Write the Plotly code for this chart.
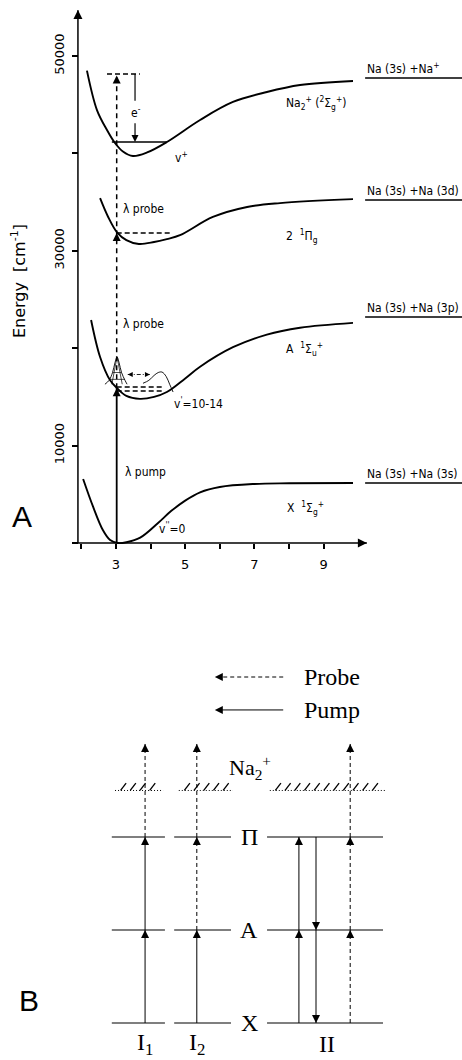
import numpy as np
import plotly.graph_objects as go

# ---------------- Panel A : potential curves (R in Å, energy in cm^-1) ----------------
x_state_R = [2.05, 2.34, 2.62, 2.83, 3.05, 3.3, 3.7, 4.2, 4.6, 5.0, 5.43, 6.0, 7.0, 8.0, 9.85]
x_state_E = [6570, 3700, 1330, 300, 0, 80, 550, 2000, 3300, 4350, 5200, 5750, 6060, 6130, 6160]

a_state_R = [2.28, 2.54, 2.83, 3.03, 3.3, 3.69, 4.1, 4.47, 5.0, 5.43, 6.38, 7.36, 8.32, 9.85]
a_state_E = [22900, 19100, 16700, 15900, 15100, 14800, 15000, 15500, 16900, 18100, 20100, 21400, 22100, 22600]

pi_state_R = [2.54, 2.77, 3.03, 3.3, 3.66, 4.1, 4.47, 4.85, 5.8, 6.79, 7.74, 9.85]
pi_state_E = [35400, 33500, 31900, 31100, 30700, 30900, 31200, 31600, 33470, 34500, 34900, 35300]

ion_state_R = [2.16, 2.45, 2.74, 2.97, 3.2, 3.49, 3.9, 4.47, 5.43, 6.38, 7.36, 8.32, 9.85]
ion_state_E = [48500, 44450, 42400, 41070, 40200, 39730, 40100, 41170, 43430, 45280, 46300, 47020, 47430]

# dissociation limits
asym_E = [47740, 35220, 23200, 6160]
asym_labels = ["Na (3s) +Na<sup>+</sup>", "Na (3s) +Na (3d)", "Na (3s) +Na (3p)", "Na (3s) +Na (3s)"]
asym_R = [10.2, 13.0]

# transitions
R_trans = 3.02
E_pump_top = 15900
E_A_levels = [16020, 15610]
R_A_levels = [3.02, 4.36]
E_pi_level = 31830
R_pi_level = [3.02, 4.56]
E_probe_top = 48000
E_ion_dash = 48150
R_ion_dash = [2.74, 3.69]
E_vplus = 41170
R_vplus = [2.88, 4.47]
R_e = 3.55

# wave packets in the A state
inner_wp_R = [2.68, 2.80, 2.90, 2.97, 3.03, 3.09, 3.16, 3.26, 3.32]
inner_wp_E = [16300, 16700, 17500, 18500, 19100, 18500, 17500, 16700, 16300]
outer_wp_R = [3.78, 3.95, 4.10, 4.22, 4.33, 4.45, 4.55, 4.65]
outer_wp_E = [16400, 16700, 17200, 17500, 17550, 17100, 16300, 15500]
wp_motion_R = [3.34, 3.98]
wp_motion_E = 17300

x_major_ticks = [3, 5, 7, 9]
x_minor_ticks = [2, 4, 6, 8]
y_major_ticks = [10000, 30000, 50000]
y_minor_ticks = [0, 20000, 40000]

# ---------------- Panel B : level scheme ----------------
lvl_X, lvl_A, lvl_Pi, lvl_ion, lvl_out = 0, 1, 2, 2.5, 3
col_spans = {"I1": (2.42, 3.57), "I2": (3.77, 5.0), "II": (5.78, 8.29)}
ion_spans = [(2.49, 3.53), (3.87, 5.04), (5.84, 8.33)]
b_arrows = [
    (3.14, 0, 1, "pump"), (3.14, 1, 2, "pump"), (3.14, 2, 3, "probe"),
    (4.26, 0, 1, "pump"), (4.26, 1, 2, "probe"), (4.26, 2, 3, "probe"),
    (6.47, 0, 1, "pump"), (6.47, 1, 2, "pump"),
    (6.84, 2, 1, "pump"), (6.84, 1, 0, "pump"),
    (7.58, 0, 1, "probe"), (7.58, 1, 2, "probe"), (7.58, 2, 3, "probe"),
]
col_labels = [("I<sub>1</sub>", 3.14), ("I<sub>2</sub>", 4.26), ("II", 7.08)]

# ---------------- figure ----------------
fig = go.Figure()
BLK = "black"
TF = "DejaVu Sans Condensed, Liberation Sans Narrow, sans-serif"
SERIF = "Liberation Serif, DejaVu Serif, serif"

def line(xs, ys, width=1.8, dash="solid", xa="x", ya="y", shape="linear"):
    fig.add_trace(go.Scatter(x=xs, y=ys, mode="lines", xaxis=xa, yaxis=ya,
                             line=dict(color=BLK, width=width, dash=dash, shape=shape, smoothing=1.0),
                             hoverinfo="skip", showlegend=False))

def heads(xs, ys, sym, size=9, xa="x", ya="y"):
    fig.add_trace(go.Scatter(x=xs, y=ys, mode="markers", xaxis=xa, yaxis=ya, cliponaxis=False,
                             marker=dict(symbol=sym, size=size, color=BLK, line=dict(width=0)),
                             hoverinfo="skip", showlegend=False))

# axes lines
line([1.85, 10.25], [0, 0], width=1.5)
line([1.90, 1.90], [0, 54700], width=1.5)
heads([10.25], [0], "arrow-right", 9)
heads([1.90], [54723], "arrow-up", 9)

# potential curves
for R, E in [(x_state_R, x_state_E), (a_state_R, a_state_E), (pi_state_R, pi_state_E), (ion_state_R, ion_state_E)]:
    line(R, E, width=1.9, shape="spline")

# dissociation limit underlines
for e in asym_E:
    line(asym_R, [e, e], width=1.5)

# vertical transition
line([R_trans, R_trans], [0, E_pump_top], width=1.8)
line([R_trans, R_trans], [E_pump_top, E_probe_top], width=1.5, dash="5px,4px")
heads([R_trans, R_trans, R_trans], [E_pump_top, E_pi_level, E_probe_top], "arrow-up", 8)

# level lines
for e in E_A_levels:
    line(R_A_levels, [e, e], width=1.5, dash="5px,3px")
line(R_pi_level, [E_pi_level, E_pi_level], width=1.5, dash="5px,3px")
line(R_ion_dash, [E_ion_dash, E_ion_dash], width=1.5, dash="5px,3px")
line(R_vplus, [E_vplus, E_vplus], width=1.5)

# electron energy arrow
line([R_e, R_e, None, R_e, R_e], [E_ion_dash, 45400, None, 43100, E_vplus + 200], width=1.2)
heads([R_e], [E_vplus], "arrow-down", 7)

# wave packets
line(inner_wp_R, inner_wp_E, width=0.9, shape="spline")
line([2.88, 3.03, 3.18, None, 2.90, 3.16, None, 2.82, 3.25],
     [16300, 19100, 16300, None, 17500, 17500, None, 16800, 16800], width=0.7)
line(outer_wp_R, outer_wp_E, width=0.9, shape="spline")
line(wp_motion_R, [wp_motion_E, wp_motion_E], width=0.9, dash="4px,2px,1px,2px")
heads([wp_motion_R[0]], [wp_motion_E], "arrow-left", 5)
heads([wp_motion_R[1]], [wp_motion_E], "arrow-right", 5)

# ---- panel B drawing ----
for name, (x0, x1) in col_spans.items():
    for lv in (lvl_X, lvl_A, lvl_Pi):
        line([x0, x1], [lv, lv], width=1.2, xa="x2", ya="y2")
for (x0, x1) in ion_spans:
    line([x0, x1], [lvl_ion, lvl_ion], width=1.0, dash="1px,2px", xa="x2", ya="y2")
    hx, hy = [], []
    for h in np.arange(x0 + 0.12, x1 - 0.12, 0.21):
        hx += [h, h + 0.12, None]
        hy += [lvl_ion, lvl_ion + 0.08, None]
    line(hx, hy, width=1.3, xa="x2", ya="y2")

for (xa_, y0, y1, kind) in b_arrows:
    dash = "solid" if kind == "pump" else "4px,3px"
    line([xa_, xa_], [y0, y1], width=1.0, dash=dash, xa="x2", ya="y2")
    heads([xa_], [y1], "arrow-up" if y1 > y0 else "arrow-down", 8, xa="x2", ya="y2")

# legend arrows
line([6.13, 4.70], [3.72, 3.72], width=1.0, dash="4px,3px", xa="x2", ya="y2")
heads([4.65], [3.72], "arrow-left", 8, xa="x2", ya="y2")
line([6.13, 4.70], [3.366, 3.366], width=1.0, xa="x2", ya="y2")
heads([4.65], [3.366], "arrow-left", 8, xa="x2", ya="y2")

# ---------------- annotations ----------------
ann = []
def txt(x, y, t, size=12, family=TF, xanchor="center", yanchor="middle", xref="x", yref="y", angle=0):
    ann.append(dict(x=x, y=y, text=t, xref=xref, yref=yref, showarrow=False, xanchor=xanchor,
                    yanchor=yanchor, textangle=angle, font=dict(family=family, size=size, color=BLK)))

for e, lab in zip(asym_E, asym_labels):
    txt(asym_R[0], e, lab, 12, xanchor="left", yanchor="bottom")
txt(8.78, 45170, "Na<sub>2</sub><sup>+</sup> (<sup>2</sup>Σ<sub>g</sub><sup>+</sup>)", 12)
txt(4.88, 39630, "v<sup>+</sup>", 12)
txt(3.58, 44250, "e<sup>-</sup>", 12)
txt(3.15, 34290, "λ probe", 12, xanchor="left")
txt(8.38, 31520, "2  <sup>1</sup>Π<sub>g</sub>", 12)
txt(3.15, 22480, "λ probe", 12, xanchor="left")
txt(8.46, 19920, "A  <sup>1</sup>Σ<sub>u</sub><sup>+</sup>", 12)
txt(4.62, 14370, "v<sup>'</sup>=10-14", 12, xanchor="left")
txt(3.20, 7290, "λ pump", 12, xanchor="left")
txt(8.49, 3590, "X  <sup>1</sup>Σ<sub>g</sub><sup>+</sup>", 12)
txt(4.62, 1540, "v<sup>''</sup>=0", 12)
txt(5.86, -5850, "R  [Å]", 12)
txt(0.20, 26900, "Energy  [cm<sup>-1</sup>]", 16, family="DejaVu Sans, sans-serif", angle=-90)
txt(0.283, 2670, "A", 30, family="Liberation Sans, Arial, sans-serif")

# panel B text
txt(6.54, 3.72, "Probe", 24, family=SERIF, xanchor="left", xref="x2", yref="y2")
txt(6.54, 3.366, "Pump", 24, family=SERIF, xanchor="left", xref="x2", yref="y2")
txt(5.41, 2.75, "Na<sub>2</sub><sup>+</sup>", 22, family=SERIF, xref="x2", yref="y2")
txt(5.39, lvl_Pi, "Π", 24, family=SERIF, xref="x2", yref="y2")
txt(5.39, lvl_A, "A", 24, family=SERIF, xref="x2", yref="y2")
txt(5.39, lvl_X, "X", 24, family=SERIF, xref="x2", yref="y2")
for lab, xc in col_labels:
    txt(xc, -0.23, lab, 24, family=SERIF, xref="x2", yref="y2")
txt(0.63, 0.237, "B", 30, family="Liberation Sans, Arial, sans-serif", xref="x2", yref="y2")

fig.update_layout(
    width=462, height=1060, margin=dict(l=0, r=0, t=0, b=0),
    paper_bgcolor="white", plot_bgcolor="white", showlegend=False,
    annotations=ann,
    xaxis=dict(domain=[0, 1], range=[-0.3526, 13.0], anchor="free", position=0.48774,
               showgrid=False, zeroline=False, showline=False,
               tickvals=x_major_ticks, ticks="outside", ticklen=5, tickwidth=1.5,
               tickcolor=BLK, ticklabelstandoff=4,
               minor=dict(tickvals=x_minor_ticks, ticks="outside", ticklen=5, tickwidth=1.5, tickcolor=BLK),
               tickfont=dict(family="DejaVu Sans, sans-serif", size=13, color=BLK)),
    yaxis=dict(domain=[0.48498, 0.99057], range=[-300, 54723], anchor="free", position=78 / 462,
               showgrid=False, zeroline=False, showline=False,
               tickvals=y_major_ticks, ticks="outside", ticklen=6, tickwidth=1.5,
               tickcolor=BLK, tickangle=-90, ticklabelstandoff=3, tickformat="d",
               minor=dict(tickvals=y_minor_ticks, ticks="outside", ticklen=6, tickwidth=1.5, tickcolor=BLK),
               tickfont=dict(family="DejaVu Sans, sans-serif", size=13, color=BLK)),
    xaxis2=dict(domain=[0, 1], range=[0, 10], anchor="y2", visible=False),
    yaxis2=dict(domain=[0, 0.4], range=[-0.398, 4.161], anchor="x2", visible=False),
)

fig.write_html("out.html", config={"displayModeBar": False},
               post_script="document.body.style.margin='0';document.body.style.overflow='hidden';")
